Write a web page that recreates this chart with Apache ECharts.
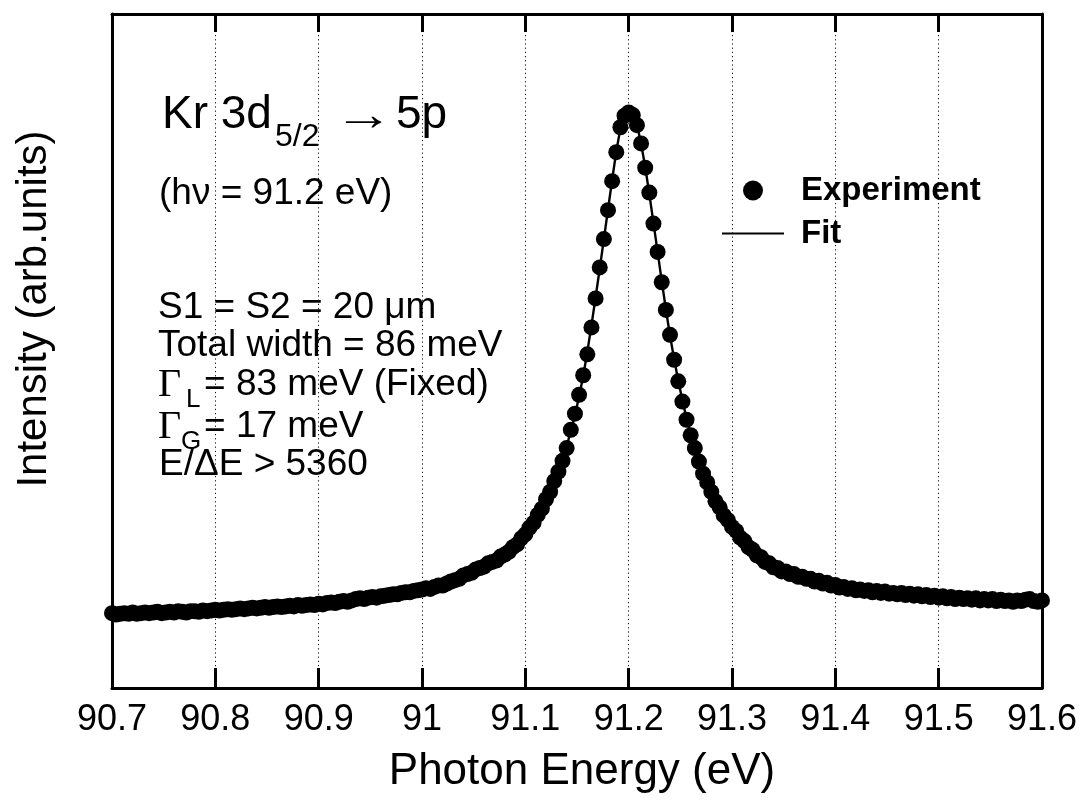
<!DOCTYPE html>
<html>
<head>
<meta charset="utf-8">
<script src="https://cdn.jsdelivr.net/npm/echarts@6/dist/echarts.min.js"></script>
<style>
html,body{margin:0;padding:0;background:#fff;}
#chart{width:1085px;height:801px;}
</style>
</head>
<body>
<div id="chart"></div>
<script>
// Photon energy sampling of the measurement (eV)
const E_START = 90.7;
const E_STEP = 0.004;

// Experiment: intensity (arb. units) at each sampled energy
const expY = [
  11.1, 10.9, 11.0, 11.1, 11.0, 11.2, 11.0, 11.1, 11.2, 11.1,
  11.2, 11.3, 11.1, 11.2, 11.3, 11.2, 11.4, 11.3, 11.2, 11.4,
  11.4, 11.3, 11.5, 11.4, 11.5, 11.6, 11.5, 11.6, 11.7, 11.6,
  11.7, 11.8, 11.7, 11.8, 11.9, 11.8, 11.9, 12.0, 11.9, 12.0,
  12.1, 12.0, 12.1, 12.2, 12.1, 12.3, 12.2, 12.3, 12.4, 12.3,
  12.5, 12.4, 12.6, 12.7, 12.6, 12.8, 12.9, 12.8, 13.0, 13.2,
  13.3, 13.2, 13.4, 13.5, 13.4, 13.6, 13.7, 13.8, 13.9, 13.9,
  14.1, 14.2, 14.2, 14.4, 14.5, 14.6,
  14.8, 14.7, 15.0, 15.2, 15.2, 15.5, 15.8, 16.0, 16.2, 16.7,
  16.9, 17.1, 17.6, 17.8, 18.0, 18.5, 18.7, 18.9, 19.5, 19.8,
  20.2, 20.9, 21.3, 22.2, 22.8, 23.8, 24.5, 25.7, 26.6, 28.0,
  29.1, 30.7,
  32.1, 33.7, 35.6, 38.3, 40.7, 43.5, 46.4, 49.5, 53.5, 57.8,
  62.4, 66.6, 70.9, 75.2, 79.5,
  83.2, 84.9, 85.4, 85.0, 83.5,
  80.8, 77.2, 73.5, 68.9, 64.7, 60.2, 56.1, 52.4, 48.7, 45.5,
  42.5, 39.8, 37.5, 35.6, 33.6, 31.8, 30.5, 29.1, 27.7, 26.8,
  25.6, 24.9, 23.9,
  23.3, 22.3, 21.8, 20.9, 20.5, 19.7, 19.4, 18.7, 18.5, 17.9,
  17.8, 17.3, 17.3, 16.9, 16.9, 16.5, 16.5, 16.2, 16.2, 15.8,
  15.9, 15.5, 15.6, 15.2, 15.3, 14.9, 15.0, 14.7, 14.8, 14.5,
  14.6, 14.4, 14.5, 14.2, 14.4, 14.1, 14.3, 14.0, 14.1, 13.9,
  14.1, 13.8, 14.0, 13.7, 13.9, 13.6, 13.8, 13.5, 13.7, 13.4,
  13.6, 13.3, 13.5, 13.2, 13.4, 13.2, 13.3, 13.1, 13.3, 13.0,
  13.2, 13.0, 13.2, 12.9, 13.1, 12.9, 13.0, 12.8, 13.0, 12.9,
  13.1, 13.2, 12.9, 12.8, 13.0
];

// Fit: intensity at the same energies
const fitY = [
  11.0, 11.0, 11.0, 11.0, 11.1, 11.1, 11.1, 11.1, 11.1, 11.2,
  11.2, 11.2, 11.2, 11.2, 11.3, 11.3, 11.3, 11.3, 11.3, 11.4,
  11.4, 11.4, 11.4, 11.5, 11.5, 11.5, 11.6, 11.6, 11.6, 11.7,
  11.7, 11.7, 11.8, 11.8, 11.8, 11.9, 11.9, 11.9, 12.0, 12.0,
  12.0, 12.1, 12.1, 12.2, 12.2, 12.2, 12.3, 12.3, 12.4, 12.4,
  12.5, 12.5, 12.6, 12.7, 12.7, 12.8, 12.9, 12.9, 13.0, 13.1,
  13.2, 13.2, 13.3, 13.4, 13.5, 13.6, 13.7, 13.8, 13.9, 14.0,
  14.1, 14.2, 14.3, 14.4, 14.5, 14.6,
  14.7, 14.8, 15.0, 15.1, 15.3, 15.5, 15.7, 16.0, 16.3, 16.6,
  16.9, 17.2, 17.5, 17.8, 18.1, 18.4, 18.7, 19.0, 19.4, 19.8,
  20.3, 20.8, 21.4, 22.1, 22.9, 23.7, 24.6, 25.6, 26.7, 27.9,
  29.2, 30.6,
  32.1, 33.9, 35.9, 38.1, 40.5, 43.2, 46.3, 49.9, 53.8, 58.0,
  62.2, 66.6, 71.0, 75.4, 79.6,
  83.0, 84.8, 85.4, 85.1, 83.6,
  80.8, 77.3, 73.3, 69.0, 64.7, 60.4, 56.2, 52.3, 48.8, 45.6,
  42.7, 40.0, 37.6, 35.5, 33.6, 31.9, 30.4, 29.0, 27.8, 26.7,
  25.7, 24.8, 24.0,
  23.2, 22.4, 21.7, 21.0, 20.4, 19.8, 19.3, 18.8, 18.4, 18.0,
  17.7, 17.4, 17.2, 17.0, 16.8, 16.6, 16.4, 16.3, 16.1, 15.9,
  15.8, 15.6, 15.5, 15.3, 15.2, 15.0, 14.9, 14.8, 14.7, 14.6,
  14.5, 14.5, 14.4, 14.3, 14.3, 14.2, 14.2, 14.1, 14.0, 14.0,
  13.9, 13.9, 13.8, 13.8, 13.7, 13.7, 13.6, 13.6, 13.5, 13.5,
  13.4, 13.4, 13.3, 13.3, 13.3, 13.2, 13.2, 13.2, 13.2, 13.1,
  13.1, 13.1, 13.1, 13.0, 13.0, 13.0, 13.0, 13.0, 12.9, 12.9,
  12.9, 12.9, 12.9, 12.9, 12.9
];

const X_MIN = 90.7, X_MAX = 91.6, X_INTERVAL = 0.1;
const seriesNames = ['Experiment', 'Fit'];

const FONT = '"Liberation Sans", Arial, Helvetica, sans-serif';
const SERIF = '"Liberation Serif", "Times New Roman", serif';

const energyAt = i => +(E_START + i * E_STEP).toFixed(4);
const expData = expY.map((v, i) => [energyAt(i), v]);
const fitData = fitY.map((v, i) => [energyAt(i), v]);

const chart = echarts.init(document.getElementById('chart'), null, {renderer: 'canvas'});

function txt(text, x, y, size, opts) {
  opts = opts || {};
  return {
    type: 'text', x: x, y: y, rotation: opts.rotation || 0, z: 100,
    scaleX: opts.scaleX || 1,
    style: {
      text: text,
      font: (opts.weight || 'normal') + ' ' + size + 'px ' + (opts.family || FONT),
      fill: '#000',
      align: opts.align || 'left',
      verticalAlign: 'middle'
    }
  };
}

const frameAxis = {
  axisLine: {show: true, onZero: false, lineStyle: {color: '#000', width: 3}}
};

const option = {
  backgroundColor: '#fff',
  animation: false,
  grid: {left: 112, right: 43, top: 14, bottom: 113, containLabel: false},
  legend: {
    orient: 'vertical', left: 716, top: 169,
    itemWidth: 62, itemHeight: 20, itemGap: 10,
    selectedMode: false,
    data: [{name: seriesNames[0], icon: 'circle'}, {name: seriesNames[1]}],
    textStyle: {fontSize: 33, fontWeight: 'bold', color: '#000', fontFamily: FONT, lineHeight: 20, padding: [0, 0, 0, 12]}
  },
  xAxis: [{
    type: 'value', min: X_MIN, max: X_MAX, interval: X_INTERVAL, position: 'bottom',
    axisLine: frameAxis.axisLine,
    axisTick: {show: true, inside: true, length: 20, lineStyle: {color: '#000', width: 3}},
    axisLabel: {show: true, color: '#000', fontSize: 36, fontFamily: FONT, margin: 14,
      formatter: v => String(+(+v).toFixed(1))},
    splitLine: {show: true, lineStyle: {color: '#111', width: 1, type: [1.2, 3]}}
  }, {
    type: 'value', min: X_MIN, max: X_MAX, interval: X_INTERVAL, position: 'top',
    axisLine: frameAxis.axisLine,
    axisTick: {show: true, inside: true, length: 18, lineStyle: {color: '#000', width: 3}},
    axisLabel: {show: false},
    splitLine: {show: false}
  }],
  yAxis: [{
    type: 'value', min: 0, max: 100, position: 'left',
    axisLine: frameAxis.axisLine,
    axisTick: {show: false}, axisLabel: {show: false}, splitLine: {show: false}
  }, {
    type: 'value', min: 0, max: 100, position: 'right',
    axisLine: frameAxis.axisLine,
    axisTick: {show: false}, axisLabel: {show: false}, splitLine: {show: false}
  }],
  series: [{
    name: 'Fit', type: 'line', data: fitData, xAxisIndex: 0, yAxisIndex: 0,
    symbol: 'none', showSymbol: false, smooth: false, z: 2,
    lineStyle: {color: '#000', width: 2.4}, itemStyle: {color: 'rgba(0,0,0,0)'}
  }, {
    name: 'Experiment', type: 'scatter', data: expData, xAxisIndex: 0, yAxisIndex: 0,
    symbol: 'circle', symbolSize: 16, z: 3,
    itemStyle: {color: '#000', opacity: 1}
  }],
  graphic: [
    txt('Kr 3d', 162, 115, 46),
    txt('5/2', 275, 137, 32),
    txt('\u2192', 334, 117, 46, {scaleX: 1.3}),
    txt('5p', 396, 115, 46),
    txt('(h\u03bd = 91.2 eV)', 159, 194, 37),
    txt('S1 = S2 = 20 \u03bcm', 158, 308, 37),
    txt('Total width = 86 meV', 158, 346, 37),
    txt('\u0393', 158, 385, 40, {family: SERIF}),
    txt('L', 186, 400, 26),
    txt('= 83 meV (Fixed)', 204, 385, 37),
    txt('\u0393', 158, 427, 40, {family: SERIF}),
    txt('G', 181, 442, 26),
    txt('= 17 meV', 204, 427, 37),
    txt('E/\u0394E > 5360', 159, 465, 37),
    txt('Photon Energy (eV)', 582, 772, 44, {align: 'center'}),
    txt('Intensity (arb.units)', 34, 309, 42, {align: 'center', rotation: Math.PI / 2})
  ]
};

chart.setOption(option);
</script>
</body>
</html>
